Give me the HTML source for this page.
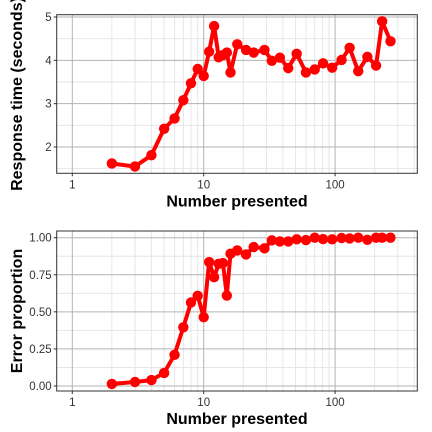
<!DOCTYPE html>
<html><head><meta charset="utf-8"><style>
html,body{margin:0;padding:0;background:#fff;}
svg{display:block;font-family:"Liberation Sans",Arial,sans-serif;}
</style></head><body>
<svg id="chart" width="432" height="432"></svg>
<script>
const xValues=[2,3,4,5,6,7,8,9,10,11,12,13,14,15,16,18,21,24,29,33,38,44,51,60,70,81,95,112,129,150,176,205,228,264];
const rtValues=[1.62,1.55,1.81,2.42,2.66,3.08,3.47,3.80,3.64,4.20,4.79,4.07,4.12,4.18,3.72,4.37,4.24,4.18,4.24,3.99,4.06,3.82,4.15,3.72,3.79,3.93,3.83,4.01,4.29,3.75,4.08,3.88,4.90,4.44];
const errValues=[0.014,0.027,0.04,0.088,0.21,0.396,0.563,0.608,0.464,0.836,0.734,0.824,0.829,0.61,0.892,0.914,0.887,0.937,0.928,0.982,0.975,0.975,0.989,0.984,1.0,0.991,0.989,0.998,0.995,1.0,0.986,1.0,1.0,1.0];
const xTicks=[1,10,100];
const rtTicks=[2,3,4,5];
const errTicks=[0,0.25,0.5,0.75,1];
const errTickLabels=["0.00","0.25","0.50","0.75","1.00"];

const NS="http://www.w3.org/2000/svg";
const svg=document.getElementById('chart');
function mk(tag,attrs,parent){const e=document.createElementNS(NS,tag);for(const k in attrs)e.setAttribute(k,attrs[k]);(parent||svg).appendChild(e);return e;}
const L=56.7,R=417.3;
function xs(v){return 72.3+Math.log10(v)*131.4;}

function panel(cfg){
  const g=mk('g',{});
  
  
  const ys=v=>cfg.y0px+(v-cfg.v0)*(cfg.y1px-cfg.y0px)/(cfg.v1-cfg.v0);
  for(let i=0;i<cfg.minorY.length;i++){const y=ys(cfg.minorY[i]);if(y>cfg.top&&y<cfg.bot)mk('line',{x1:L,x2:R,y1:y,y2:y,stroke:'#e6e6e6','stroke-width':1},g);}
  for(let d=0;d<3;d++)for(let m=2;m<=9;m++){const x=xs(m*Math.pow(10,d));if(x<R)mk('line',{x1:x,x2:x,y1:cfg.top,y2:cfg.bot,stroke:'#e6e6e6','stroke-width':1},g);}
  cfg.ticks.forEach((t,i)=>{const y=ys(t);const gl=mk('line',{x1:L,x2:R,y1:y,y2:y,stroke:'#b3b3b3','stroke-width':1},g);
    mk('line',{x1:L-3,x2:L,y1:y,y2:y,stroke:'#333','stroke-width':1},g);
    const tx=mk('text',{x:L-5,y:y+4,'text-anchor':'end','font-size':11.5,fill:'#333'},g);tx.textContent=cfg.labels[i];
    });
  xTicks.forEach(t=>{const x=xs(t);mk('line',{x1:x,x2:x,y1:cfg.top,y2:cfg.bot,stroke:'#b3b3b3','stroke-width':1},g);
    mk('line',{x1:x,x2:x,y1:cfg.bot,y2:cfg.bot+3,stroke:'#333','stroke-width':1},g);
    const tx=mk('text',{x:x,y:cfg.bot+15,'text-anchor':'middle','font-size':11.5,fill:'#333'},g);tx.textContent=String(t);
    });
  const pts=xValues.map((v,i)=>xs(v).toFixed(1)+','+ys(cfg.data[i]).toFixed(1)).join(' ');
  const pl=mk('polyline',{points:pts,fill:'none',stroke:'#ff0000','stroke-width':4,'stroke-linejoin':'round'},g);
  
  xValues.forEach((v,i)=>{const c=mk('circle',{cx:xs(v),cy:ys(cfg.data[i]),r:5.2,fill:'#ff0000'},g);
    });
  const b=mk('rect',{x:L,y:cfg.top,width:R-L,height:cfg.bot-cfg.top,fill:'none',stroke:'#333','stroke-width':1},g);
  
  const xt=mk('text',{x:237,y:cfg.bot+33,'text-anchor':'middle','font-size':16,'font-weight':'bold',fill:'#000'},g);xt.textContent='Number presented';
  
  const cy=(cfg.top+cfg.bot)/2;
  const yt=mk('text',{x:0,y:0,transform:`translate(${cfg.titleX},${cy}) rotate(-90)`,'text-anchor':'middle','font-size':16,'font-weight':'bold',fill:'#000'},g);yt.textContent=cfg.title;
  
}
panel({name:'response-time-panel',top:14.7,bot:173.3,v0:2,v1:5,y0px:147,y1px:17,ticks:rtTicks,labels:rtTicks.map(String),minorY:[1.5,2.5,3.5,4.5],data:rtValues,title:'Response time (seconds)',titleX:22});
panel({name:'error-proportion-panel',top:231,bot:391,v0:0,v1:1,y0px:386,y1px:237.7,ticks:errTicks,labels:errTickLabels,minorY:[0.125,0.375,0.625,0.875],data:errValues,title:'Error proportion',titleX:22});
</script>
</body></html>
